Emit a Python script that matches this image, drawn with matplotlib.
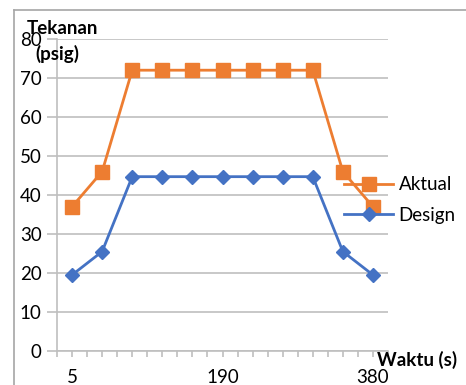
import matplotlib.pyplot as plt
from matplotlib.lines import Line2D

# Data
waktu = [5, 42, 79, 116, 153, 190, 227, 264, 301, 338, 380]
aktual = [37, 46, 72, 72, 72, 72, 72, 72, 72, 46, 37]
design = [19.5, 25.5, 44.7, 44.7, 44.7, 44.7, 44.7, 44.7, 44.7, 25.5, 19.5]

ORANGE = "#ED7D31"
BLUE = "#4472C4"
GRID = "#BFBFBF"

plt.rcParams["font.family"] = ["Lato", "DejaVu Sans"]

fig = plt.figure(figsize=(4.66, 3.85), dpi=100)
ax = fig.add_axes([57 / 466, 34 / 385, 331 / 466, 312 / 385])

x = list(range(len(waktu)))
ax.plot(x, aktual, color=ORANGE, lw=2.0, marker="s", ms=9.5, label="Aktual", zorder=3)
ax.plot(x, design, color=BLUE, lw=2.0, marker="D", ms=7, label="Design", zorder=3)

ax.set_xlim(-0.5, len(waktu) - 0.5)
ax.set_ylim(0, 80)
ax.set_yticks(range(0, 81, 10))
ax.yaxis.grid(True, color=GRID, lw=1.2)
ax.set_axisbelow(True)

# category ticks: labels every 5th, tick marks at centers and boundaries
ax.set_xticks(x[::5])
ax.set_xticklabels([str(w) for w in waktu[::5]])
ax.set_xticks([i - 0.5 for i in range(len(waktu) + 1)] + x, minor=True)
ax.tick_params(axis="x", which="both", length=4, color=GRID, width=1.2, pad=9,
               labelsize=13.5)
ax.tick_params(axis="y", length=7, color=GRID, width=1.2, pad=4, labelsize=13.5)

for side in ["top", "right"]:
    ax.spines[side].set_visible(False)
ax.spines["left"].set_color(GRID)
ax.spines["bottom"].set_color(GRID)
ax.spines["left"].set_linewidth(1.2)
ax.spines["bottom"].set_linewidth(1.2)

fig.text(27 / 466, 1 - 29 / 385, "Tekanan", fontsize=13.5, fontweight="bold",
         ha="left", va="center")
fig.text(35 / 466, 1 - 54 / 385, "(psig)", fontsize=13.5, fontweight="bold",
         ha="left", va="center")
fig.text(377 / 466, 1 - 360 / 385, "Waktu (s)", fontsize=13.5, fontweight="bold",
         ha="left", va="center")

ax.legend(loc="center left", bbox_to_anchor=(335 / 466, 1 - 200 / 385),
          bbox_transform=fig.transFigure, frameon=False, fontsize=13.5,
          handlelength=2.6, handletextpad=0.3, labelspacing=0.7, borderpad=0)

# chart-area border (left and top visible)
fig.add_artist(Line2D([14 / 466, 14 / 466], [0, 1 - 10 / 385], color="#A6A6A6",
                      lw=1.2, transform=fig.transFigure))
fig.add_artist(Line2D([14 / 466, 1], [1 - 10 / 385, 1 - 10 / 385], color="#A6A6A6",
                      lw=1.2, transform=fig.transFigure))

fig.savefig("out.png", dpi=100)
